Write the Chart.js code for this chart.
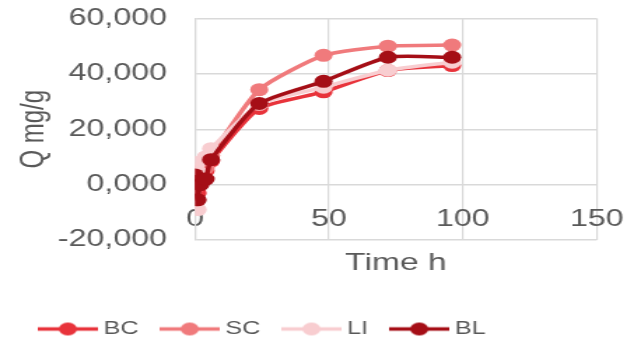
<!DOCTYPE html>
<html><head><meta charset="utf-8">
<script src="https://cdn.jsdelivr.net/npm/chart.js@4/dist/chart.umd.min.js"></script>
<style>
html,body{margin:0;padding:0;background:#fff;overflow:hidden;}
#wrap{width:453px;height:343px;transform:scaleX(1.3996);transform-origin:0 0;}
</style></head><body>
<div id="wrap"><canvas id="c" width="453" height="343"></canvas></div>
<script>
const times = [0, 1, 2, 4, 6, 24, 48, 72, 96];
const seriesNames = ['BC', 'SC', 'LI', 'BL'];
const bcValues = [0, -3, 2, 5, 8.5, 27.5, 33.5, 41.2, 43.0];
const scValues = [-1, 2, 5, 6, 10.5, 34.3, 46.7, 50.0, 50.4];
const liValues = [8, -9, 4, 10, 13.0, 29.0, 35.2, 41.3, 44.2];
const blValues = [3.5, -5.5, 0, 2, 9.0, 29.3, 37.3, 46.0, 46.0];
const seriesColors = ['#E8333B', '#F07A7C', '#F8CDD0', '#A50E16'];
const yTicks = [-20, 0, 20, 40, 60];
const xTicks = [0, 50, 100, 150];
const yTitle = 'Q mg/g';
const xTitle = 'Time h';

const FONT = '"Liberation Sans", Arial, sans-serif';
const TXT = '#595959';
const GRID = '#d9d9d9';
const CLEAR = 'rgba(0,0,0,0)';

function legendImage(color) {
  const c = document.createElement('canvas');
  c.width = 43; c.height = 15;
  const g = c.getContext('2d');
  g.strokeStyle = color; g.lineWidth = 3.5;
  g.beginPath(); g.moveTo(0, 7.5); g.lineTo(43, 7.5); g.stroke();
  g.fillStyle = color;
  g.beginPath(); g.arc(21.5, 7.5, 6.5, 0, Math.PI * 2); g.fill();
  return c;
}
const legendImgs = seriesColors.map(legendImage);

const allValues = [bcValues, scValues, liValues, blValues];
const datasets = seriesNames.map((name, i) => ({
  label: name,
  data: times.map((t, j) => ({x: t, y: allValues[i][j]})),
  borderColor: seriesColors[i],
  backgroundColor: seriesColors[i],
  pointBackgroundColor: seriesColors[i],
  pointBorderColor: seriesColors[i],
  borderWidth: 3.5,
  pointRadius: 6.5,
  pointBorderWidth: 0,
  tension: 0.2,
  order: seriesNames.length - 1 - i
}));

const legendShift = {
  id: 'legendShift',
  afterLayout(chart) {
    const lg = chart.legend;
    if (!lg) return;
    const dx = 32 - (lg.left + 20);
    lg.left += dx; lg.right += dx;
    const dy = 320 - (lg.top + 20);
    lg.top += dy; lg.bottom += dy;
  }
};

new Chart(document.getElementById('c'), {
  type: 'line',
  data: {datasets},
  plugins: [legendShift],
  options: {
    responsive: false,
    animation: false,
    layout: {padding: {top: 18.5, right: 26.6, left: 0, bottom: 0}},
    plugins: {
      tooltip: {enabled: false},
      legend: {
        position: 'bottom',
        align: 'start',
        labels: {
          usePointStyle: true,
          pointStyleWidth: 33,
          boxHeight: 18,
          padding: 20,
          color: TXT,
          font: {family: FONT, size: 18},
          generateLabels(chart) {
            return chart.data.datasets.map((ds, i) => ({
              text: ds.label,
              pointStyle: legendImgs[i],
              fillStyle: ds.borderColor,
              strokeStyle: ds.borderColor,
              lineWidth: 0,
              hidden: !chart.isDatasetVisible(i),
              datasetIndex: i,
              fontColor: TXT
            }));
          }
        }
      }
    },
    scales: {
      x: {
        type: 'linear',
        position: {y: 0},
        min: xTicks[0], max: xTicks[xTicks.length - 1],
        afterBuildTicks(s) { s.ticks = xTicks.map(v => ({value: v})); },
        ticks: {padding: 0, color: TXT, font: {family: FONT, size: 23}},
        grid: {color: GRID, lineWidth: 1.2, drawTicks: true, tickLength: 21, tickColor: CLEAR},
        border: {display: false}
      },
      x2: {
        type: 'linear',
        position: 'bottom',
        min: 0, max: 150,
        afterFit(s) { s.height = 55; },
        ticks: {display: false},
        grid: {display: false, drawTicks: false},
        border: {display: false},
        title: {display: true, text: xTitle, color: TXT, font: {family: FONT, size: 24}, padding: {top: 0, bottom: 17.6}}
      },
      y: {
        type: 'linear',
        min: yTicks[0], max: yTicks[yTicks.length - 1],
        afterBuildTicks(s) { s.ticks = yTicks.map(v => ({value: v})); },
        afterFit(s) { s.width = 139.3; },
        ticks: {
          padding: 0, color: TXT, font: {family: FONT, size: 23},
          callback: v => v.toFixed(3).replace('.', ',')
        },
        grid: {color: GRID, lineWidth: 1.5, drawTicks: true, tickLength: 20, tickColor: CLEAR},
        border: {color: GRID, width: 1.2},
        title: {display: true, text: yTitle, color: TXT, font: {family: FONT, size: 24}, padding: {top: 10, bottom: 0}}
      }
    }
  }
});
</script>
</body></html>
